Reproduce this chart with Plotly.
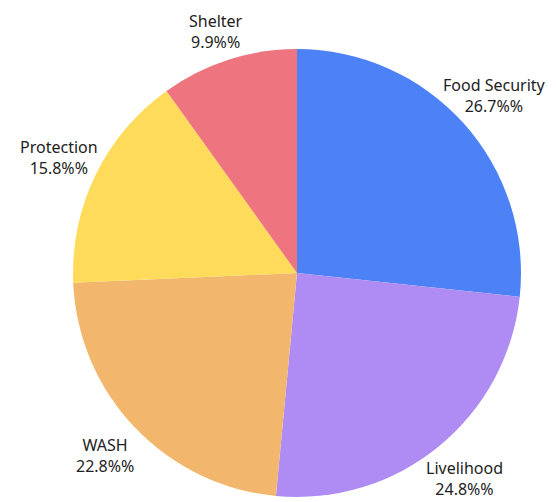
import math
import plotly.graph_objects as go

categories = ["Food Security", "Livelihood", "WASH", "Protection", "Shelter"]
values = [26.7, 24.8, 22.8, 15.8, 9.9]
colors = ["#4c82f6", "#ae8cf3", "#f2b76d", "#fedb5b", "#ee747f"]

# the page body adds an 8px offset, so the figure covers the visible area only
W, H = 549, 494
CX, CY, R = 289, 265, 224      # pie centre / radius in figure pixels
LABEL_R = 265                   # distance of label centres from pie centre
LABEL_MIN_Y = 23                # keep label centres inside the top edge

# pie domain in paper coordinates
xc, yc = CX / W, 1 - CY / H
dy = R / H
dx = min(xc, 1 - xc)
domain = dict(x=[xc - dx, xc + dx], y=[max(0, yc - dy), min(1, yc + dy)])

fig = go.Figure(go.Pie(
    labels=categories,
    values=values,
    textinfo="none",
    sort=False,
    direction="clockwise",
    rotation=0,
    domain=domain,
    marker=dict(colors=colors, line=dict(color="white", width=0)),
    showlegend=False,
    hoverinfo="label+value",
))

# outside labels placed along each slice's mid-angle (clockwise from 12 o'clock)
total = sum(values)
cum = 0.0
for c, v in zip(categories, values):
    mid = (cum + v / 2) / total * 2 * math.pi
    cum += v
    px = CX + LABEL_R * math.sin(mid)
    py = max(LABEL_MIN_Y, CY - LABEL_R * math.cos(mid))
    fig.add_annotation(
        x=px / W, y=1 - py / H, xref="paper", yref="paper",
        text=f"{c}<br>{v}%%", showarrow=False,
        xanchor="center", yanchor="middle", align="center",
        font=dict(family="Noto Sans", size=16, color="#222222"),
    )

fig.update_layout(
    width=W, height=H,
    margin=dict(l=0, r=0, t=0, b=0),
    paper_bgcolor="white",
    plot_bgcolor="white",
)
fig.write_html("out.html")
